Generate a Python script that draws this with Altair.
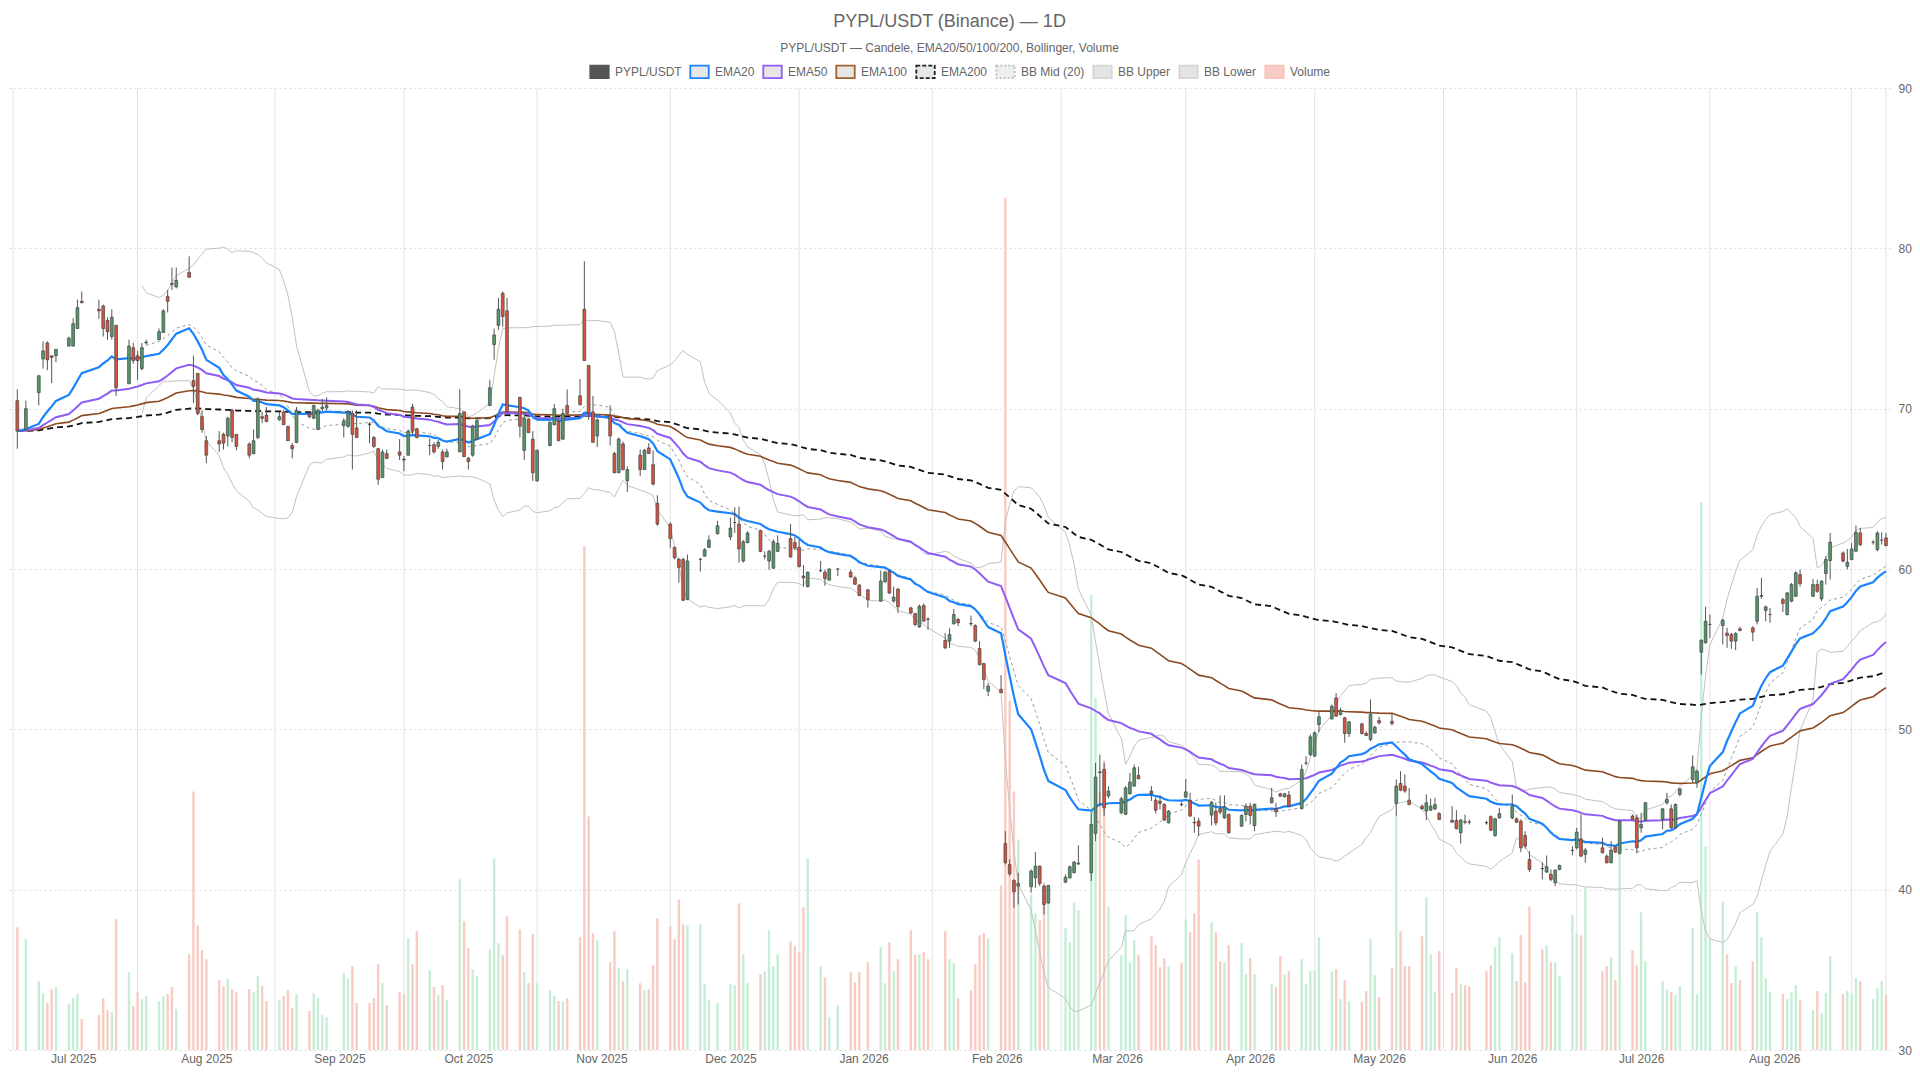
import altair as alt
import pandas as pd

FONT = "Liberation Sans"

# ---------------- data ----------------
holidays = ["2025-06-19", "2025-07-04", "2025-09-01", "2025-11-27", "2025-12-25",
            "2026-01-01", "2026-01-19", "2026-02-16", "2026-04-03", "2026-05-25",
            "2026-06-19", "2026-07-03"]
first_day, last_day = "2025-06-18", "2026-08-27"

open_ = [
    70.5, 68.7, 71.0, 73.1, 74.1, 73.3, 73.3, 73.9,
    73.9, 75.0, 76.7, 76.2, 76.4, 75.5, 74.5, 75.2, 71.55, 73.8, 73.3, 72.5, 74.1, 74.3, 74.75, 77.0, 77.8, 77.6, 78.5, 71.75, 72.2, 69.5,
    68.0, 68.0, 68.4, 68.3, 69.9, 68.4, 67.8, 67.2, 68.2, 69.5, 69.6, 69.3, 69.8, 68.9, 67.7, 67.9, 69.7, 69.4, 68.7, 70.0, 70.05,
    68.94, 68.9, 69.7, 68.8, 69.05, 68.2, 67.5, 65.7, 67.2, 67.3, 66.85, 67.1, 70.1, 68.75, 67.7, 67.75, 67.65, 67.3, 67.0, 67.3, 69.8,
    66.9, 67.1, 68.1, 70.2, 74.0, 75.2, 77.2, 76.1, 70.7, 67.4, 69.35, 68.1, 65.5, 67.7, 69.0, 69.2, 68.1, 70.2, 70.8, 76.2, 72.7, 69.8, 68.3,
    69.6, 67.2, 66.0, 67.8, 65.5, 67.1, 66.2, 67.55, 66.5, 64.1, 62.8, 61.35, 60.6, 60.6, 58.1, 60.6, 60.8, 61.35, 62.2,
    62.0, 62.9, 62.8, 60.5, 61.65, 62.4, 60.8, 60.5, 60.05, 61.1, 61.9, 61.65, 61.35, 59.55, 58.9, 59.9, 59.8, 59.3, 60.0, 59.8, 59.45, 59.0,
    58.7, 58.0, 59.2, 59.85, 58.0, 58.75, 57.57, 57.22, 56.39, 57.72, 56.87, 55.54, 55.5, 56.58, 56.85, 56.6, 56.47, 55.04, 54.1, 52.38,
    52.5, 42.88, 41.57, 40.58, 40.22, 40.18, 40.74, 41.47, 40.22, 39.18, 40.47, 40.74, 41.06, 41.6, 41.06, 43.51, 47.35, 47.5, 45.84,
    44.8, 44.7, 45.98, 46.46, 47.12, 46.15, 45.58, 45.52, 45.32, 44.17, 45.32, 45.77, 45.58, 44.2, 44.28, 44.65, 44.9, 45.05, 44.48, 44.69, 43.96, 44.69,
    45.21, 44.0, 45.42, 45.06, 45.98, 45.79, 45.9, 45.06, 47.9, 48.43, 48.33, 50.3, 50.65, 51.96, 50.92, 50.72, 49.74, 50.34, 49.74, 49.37, 49.78,
    50.55, 50.5, 45.38, 46.62, 46.46, 45.58, 45.21, 44.9, 44.96, 45.04, 44.75, 44.32, 44.32, 43.55, 44.25, 44.22, 44.18, 44.55, 43.38, 44.48,
    44.48, 44.42, 44.27, 43.38, 41.88, 41.32, 41.1, 40.95, 40.43, 41.26, 42.45, 42.61, 43.17, 42.2, 42.61, 42.09, 41.68, 42.68, 42.26, 44.59, 44.48,
    43.86, 44.34, 44.38, 45.42, 45.04, 43.86, 45.94, 46.87, 46.67, 54.81, 55.4, 56.54, 56.47, 56.0, 55.91, 55.5, 56.27, 56.33, 56.74, 58.3, 57.41, 57.16,
    58.09, 57.16, 57.99, 58.3, 59.65, 58.3, 59.03, 58.14, 59.72, 60.53, 61.0, 60.17, 60.59, 61.11, 62.25, 61.67, 61.21, 61.8, 61.94,
]
high_ = [
    71.2, 70.5, 72.1, 74.2, 74.2, 73.3, 73.7, 74.5,
    75.65, 76.8, 77.3, 76.8, 76.5, 75.7, 76.2, 75.2, 74.3, 74.1, 73.6, 74.1, 74.3, 75.0, 76.2, 77.4, 78.8, 78.8, 79.5, 73.3, 72.2, 69.9,
    68.3, 68.6, 68.5, 69.5, 70.0, 68.4, 67.9, 68.7, 70.7, 69.8, 70.1, 69.8, 69.9, 68.9, 67.85, 70.1, 69.85, 70.25, 70.0, 70.6, 70.7,
    69.4, 69.9, 69.9, 69.9, 69.15, 68.3, 67.55, 67.45, 67.45, 68.1, 67.05, 68.7, 70.3, 68.8, 68.15, 67.9, 68.05, 67.45, 67.5, 71.2, 69.8,
    67.0, 69.0, 69.4, 71.8, 75.0, 76.9, 77.3, 76.9, 70.75, 69.7, 69.4, 68.6, 67.45, 69.2, 70.3, 69.35, 70.0, 71.2, 71.85, 79.2, 72.7, 70.8, 69.4,
    70.2, 67.3, 68.2, 67.95, 66.4, 67.45, 67.5, 67.85, 67.4, 64.6, 62.9, 61.4, 60.7, 60.7, 60.9, 60.7, 61.3, 62.1, 63.0,
    63.2, 63.85, 63.9, 61.8, 62.35, 62.45, 61.1, 61.2, 61.85, 62.1, 62.8, 62.0, 61.85, 60.25, 59.85, 60.5, 59.95, 60.05, 60.05, 59.95, 59.55, 59.05,
    58.75, 59.9, 59.9, 60.0, 58.9, 58.8, 57.65, 57.26, 57.78, 57.85, 57.0, 56.0, 56.3, 57.5, 56.95, 57.1, 56.55, 55.5, 54.15, 52.9,
    53.38, 43.65, 41.89, 40.65, 41.06, 41.26, 42.34, 41.5, 40.3, 40.3, 40.95, 41.5, 41.78, 42.76, 44.8, 47.91, 48.43, 47.9, 46.46,
    45.8, 46.45, 47.29, 47.8, 47.66, 46.46, 45.73, 45.88, 45.38, 44.96, 45.46, 46.9, 46.04, 44.54, 44.48, 45.52, 45.42, 45.88, 45.88, 44.75, 44.69, 45.38,
    45.42, 45.38, 46.35, 45.42, 46.04, 46.0, 46.15, 47.8, 48.33, 49.68, 49.88, 51.13, 51.55, 52.27, 51.34, 50.78, 50.51, 50.4, 49.88, 51.86, 50.24,
    50.78, 51.03, 46.87, 47.39, 47.18, 46.35, 45.31, 45.94, 45.67, 45.73, 44.83, 45.21, 44.96, 44.42, 44.69, 44.38, 44.3, 44.63, 44.48, 45.1,
    45.94, 44.5, 44.38, 43.65, 42.4, 41.7, 42.13, 41.26, 41.26, 41.56, 42.72, 43.86, 44.69, 42.6, 43.24, 42.2, 43.03, 42.77, 44.34, 44.69, 44.69,
    44.79, 45.46, 45.1, 46.04, 45.31, 45.38, 46.35, 48.37, 47.5, 55.6, 57.64, 57.16, 56.89, 56.33, 56.02, 56.06, 56.39, 56.43, 58.82, 59.45, 57.72, 57.58,
    58.2, 58.55, 59.13, 59.86, 59.97, 59.38, 59.34, 59.3, 60.8, 62.25, 61.1, 61.25, 61.63, 62.71, 62.56, 61.8, 62.35, 62.29, 62.25,
]
low_ = [
    67.5, 68.6, 70.2, 72.5, 72.4, 71.6, 72.9, 73.9,
    73.9, 75.0, 76.6, 75.6, 74.5, 74.3, 74.3, 70.8, 71.55, 72.8, 71.8, 72.4, 74.0, 74.3, 74.75, 76.0, 77.4, 77.5, 78.15, 70.35, 69.6, 68.5,
    66.6, 67.3, 67.45, 67.65, 67.9, 67.4, 66.9, 67.15, 68.1, 69.1, 69.15, 69.25, 69.0, 68.0, 66.9, 67.85, 69.4, 69.35, 68.7, 69.85, 69.9,
    68.2, 68.8, 66.2, 68.2, 67.85, 67.55, 65.25, 65.7, 66.85, 66.8, 66.1, 67.05, 68.4, 68.15, 67.1, 67.2, 67.5, 66.2, 66.95, 67.3, 67.0,
    66.2, 67.0, 68.05, 70.15, 73.05, 74.9, 75.1, 69.75, 68.2, 66.8, 68.5, 65.5, 65.45, 67.65, 68.95, 68.0, 68.05, 69.7, 70.2, 73.0, 69.3, 67.9, 67.6,
    67.7, 66.0, 66.0, 66.15, 64.8, 65.8, 66.2, 67.2, 65.2, 62.7, 61.3, 60.6, 59.15, 58.0, 58.05, 59.85, 60.8, 61.3, 62.15,
    61.8, 62.25, 60.4, 60.4, 61.6, 61.05, 60.6, 59.95, 60.0, 61.05, 60.7, 61.2, 60.1, 58.9, 58.85, 59.8, 58.95, 59.3, 59.55, 59.45, 59.0, 58.3,
    57.6, 57.95, 59.15, 58.45, 57.9, 57.25, 57.2, 56.43, 56.33, 56.7, 56.2, 55.0, 55.08, 56.54, 56.43, 56.43, 55.44, 53.98, 52.5, 52.07,
    52.28, 41.57, 40.85, 38.87, 39.08, 39.81, 40.12, 40.22, 38.46, 39.12, 40.4, 40.68, 41.02, 41.55, 40.54, 43.03, 45.2, 44.6, 45.7,
    44.7, 44.65, 45.94, 46.42, 46.88, 45.53, 44.75, 45.0, 44.28, 44.13, 45.2, 45.73, 44.55, 43.55, 43.34, 44.0, 44.0, 44.69, 44.42, 43.5, 43.92, 44.27,
    44.07, 43.65, 45.38, 44.54, 45.8, 45.75, 45.17, 45.0, 47.75, 48.33, 48.29, 49.82, 50.61, 50.78, 50.86, 49.16, 49.53, 49.68, 49.57, 49.26, 49.72,
    50.3, 50.24, 44.59, 46.14, 46.04, 45.27, 45.0, 44.34, 44.9, 44.96, 44.34, 44.17, 43.76, 42.88, 44.07, 44.07, 44.05, 43.65, 43.3, 44.42,
    44.38, 44.15, 42.34, 42.55, 41.1, 40.64, 41.05, 40.53, 40.22, 41.22, 42.14, 42.51, 42.05, 41.68, 42.26, 41.63, 41.64, 42.3, 42.2, 44.34, 42.26,
    43.55, 44.28, 43.76, 45.31, 43.76, 43.8, 45.83, 46.67, 46.35, 53.42, 55.35, 55.7, 55.29, 55.08, 55.02, 54.94, 56.12, 55.5, 56.54, 58.14, 56.74, 56.64,
    57.31, 57.1, 57.93, 58.26, 58.89, 58.26, 58.51, 57.99, 59.03, 59.34, 60.42, 59.97, 60.55, 61.05, 61.42, 61.52, 61.11, 61.52, 61.42,
]
close_ = [
    68.6, 70.0, 72.05, 73.6, 73.05, 73.2, 73.7, 74.4,
    75.3, 76.3, 76.6, 76.1, 75.0, 74.8, 75.7, 71.3, 73.9, 73.0, 73.0, 73.8, 74.15, 74.8, 76.1, 76.7, 77.75, 78.0, 78.2, 71.4, 69.7, 68.7,
    67.1, 67.8, 67.85, 69.4, 68.2, 67.65, 67.1, 68.0, 70.6, 69.4, 69.2, 69.5, 69.0, 68.0, 67.5, 69.9, 69.5, 70.2, 69.9, 70.1, 70.2,
    69.25, 69.8, 68.4, 68.2, 69.0, 67.65, 65.6, 67.3, 66.9, 67.1, 66.8, 68.6, 68.6, 68.2, 67.7, 67.3, 67.9, 66.7, 67.3, 69.7, 67.0,
    66.7, 68.9, 69.25, 71.3, 74.6, 76.2, 75.75, 69.8, 68.9, 69.4, 68.5, 66.0, 67.4, 69.15, 70.0, 68.0, 69.7, 69.7, 70.25, 73.0, 69.7, 67.9, 69.3,
    68.3, 66.0, 68.1, 66.2, 66.2, 66.2, 67.4, 67.2, 65.3, 62.8, 61.9, 60.7, 60.1, 58.05, 60.5, 60.6, 61.2, 61.8, 62.7,
    62.55, 62.9, 61.25, 61.7, 62.25, 61.1, 60.8, 61.1, 61.7, 61.6, 60.75, 61.3, 60.15, 59.45, 59.8, 59.9, 59.4, 60.0, 60.0, 59.5, 59.05, 58.35,
    58.1, 59.25, 59.8, 58.5, 58.25, 57.65, 57.26, 56.54, 57.68, 56.75, 56.85, 55.08, 55.91, 57.16, 56.64, 56.58, 55.5, 54.04, 53.1, 52.7,
    52.28, 41.68, 40.99, 39.87, 40.39, 41.16, 41.47, 40.39, 39.08, 40.26, 40.78, 41.43, 41.72, 41.65, 44.07, 47.02, 47.3, 45.1, 46.15,
    45.67, 46.35, 46.71, 47.6, 46.92, 45.98, 44.96, 45.38, 44.34, 44.9, 45.3, 46.1, 44.59, 44.17, 43.96, 45.46, 44.17, 44.84, 45.17, 43.55, 44.63, 45.21,
    44.63, 45.31, 45.73, 44.86, 45.83, 45.98, 45.21, 47.5, 47.9, 49.53, 49.78, 50.78, 51.44, 50.82, 51.19, 49.74, 50.47, 49.74, 49.62, 50.92, 50.13,
    50.4, 50.36, 46.46, 46.2, 46.15, 45.31, 45.04, 45.42, 45.21, 45.31, 44.38, 44.21, 43.8, 44.34, 44.21, 44.21, 44.17, 43.71, 44.42, 44.75,
    45.21, 44.21, 42.61, 42.72, 41.26, 41.3, 41.43, 40.64, 41.22, 41.51, 42.45, 43.59, 42.09, 42.47, 42.3, 41.68, 42.47, 42.34, 44.28, 44.38, 42.61,
    44.07, 45.42, 45.04, 45.63, 43.86, 45.31, 46.29, 47.66, 47.39, 55.56, 56.74, 56.54, 56.81, 55.85, 55.5, 55.98, 56.16, 56.06, 58.3, 58.35, 57.64, 57.16,
    57.85, 58.51, 59.03, 59.76, 59.09, 59.03, 58.61, 59.24, 60.59, 61.67, 60.49, 60.42, 61.25, 62.29, 61.52, 61.67, 62.25, 61.8, 61.46,
]
volume_ = [
    123, 111, 69, 57, 47, 61, 63, 46,
    52, 56, 31, 35, 52, 40, 38, 131, 78, 44, 58, 51, 54, 49, 54, 56, 63, 41, 96, 259, 125, 100,
    91, 70, 64, 71, 61, 58, 61, 58, 74, 64, 49, 50, 54, 60, 42, 56, 39, 57, 52, 35, 33,
    77, 71, 84, 47, 47, 52, 86, 67, 45, 58, 56, 112, 86, 119, 80, 63, 55, 65, 50, 171, 129,
    102, 81, 74, 101, 192, 107, 95, 134, 121, 78, 67, 116, 67, 60, 54, 49, 49, 52, 113, 505, 234, 117, 110,
    88, 119, 82, 69, 81, 67, 60, 61, 85, 132, 124, 111, 151, 126, 125, 126, 66, 50, 47,
    66, 65, 147, 96, 67, 76, 79, 120, 84, 96, 109, 104, 98, 143, 192, 84, 73, 33, 45, 78, 68, 78,
    88, 103, 67, 108, 79, 91, 120, 95, 96, 98, 91, 119, 91, 87, 52, 60, 86, 115, 117, 112,
    165, 854, 350, 259, 211, 156, 137, 130, 168, 165, 122, 108, 148, 140, 456, 353, 259, 290, 144,
    95, 135, 88, 110, 95, 114, 105, 83, 92, 84, 87, 131, 118, 137, 191, 128, 118, 89, 88, 105, 107, 76,
    92, 76, 66, 63, 94, 76, 79, 91, 66, 79, 80, 113, 79, 81, 51, 70, 49, 48, 59, 111, 75,
    53, 82, 234, 119, 84, 84, 114, 153, 96, 58, 99, 57, 82, 66, 65, 64, 79, 85, 103, 113,
    97, 69, 115, 68, 144, 101, 105, 88, 88, 74, 135, 117, 115, 163, 79, 84, 93, 70, 197, 100, 85,
    138, 89, 69, 61, 58, 55, 64, 122, 56, 549, 204, 111, 149, 96, 67, 84, 70, 89, 138, 113, 72, 58,
    56, 51, 58, 65, 50, 40, 59, 37, 57, 94, 56, 59, 57, 72, 69, 51, 62, 69, 55,
]

month_labels = ["Jul 2025", "Aug 2025", "Sep 2025", "Oct 2025", "Nov 2025", "Dec 2025", "Jan 2026",
                "Feb 2026", "Mar 2026", "Apr 2026", "May 2026", "Jun 2026", "Jul 2026", "Aug 2026"]
month_starts = ["2025-07-01", "2025-08-01", "2025-09-01", "2025-10-01", "2025-11-01", "2025-12-01",
                "2026-01-01", "2026-02-01", "2026-03-01", "2026-04-01", "2026-05-01", "2026-06-01",
                "2026-07-01", "2026-08-01"]
grid_dates = ["2025-06-17", "2025-07-16", "2025-08-17", "2025-09-16", "2025-10-17", "2025-11-17",
              "2025-12-17", "2026-01-17", "2026-02-16", "2026-03-17", "2026-04-16", "2026-05-16",
              "2026-06-16", "2026-07-17", "2026-08-19", "2026-08-27"]

legend_names = ["PYPL/USDT", "EMA20", "EMA50", "EMA100", "EMA200", "BB Mid (20)", "BB Upper", "BB Lower", "Volume"]

# ---------------- assemble ----------------
origin = pd.Timestamp("2025-06-17")
dates = [d for d in pd.bdate_range(first_day, last_day) if d.strftime("%Y-%m-%d") not in holidays]
n = len(dates)
for arr in (open_, high_, low_, close_, volume_):
    assert len(arr) == n, (len(arr), n)

day = [(d - origin).days for d in dates]
df = pd.DataFrame({"day": day, "open": open_, "high": high_, "low": low_, "close": close_, "volume": volume_})
df["up"] = df["close"] >= df["open"]

c = df["close"]
ind = pd.DataFrame({"day": day})
for span in (20, 50, 100, 200):
    ind[f"ema{span}"] = c.ewm(span=span, adjust=False).mean()
mid = c.rolling(20).mean()
sd = c.rolling(20).std(ddof=0)
ind["bb_mid"] = mid
ind["bb_up"] = mid + 2 * sd
ind["bb_lo"] = mid - 2 * sd

month_days = [(pd.Timestamp(s) - origin).days for s in month_starts]
grid_days = [(pd.Timestamp(s) - origin).days for s in grid_dates]
x_max = (pd.Timestamp(last_day) - origin).days

label_expr = ("[" + ",".join(f"'{l}'" for l in month_labels) + "][indexof(["
              + ",".join(str(v) for v in month_days) + "], datum.value)]")

xscale = alt.Scale(domain=[0, x_max], nice=False, zero=False)
xaxis = alt.Axis(values=month_days, labelExpr=label_expr, grid=False, ticks=False, domain=False,
                 labelPadding=3, labelFontSize=12, labelColor="#666666", labelFont=FONT,
                 title=None, labelOverlap=False, labelFlush=False)
X = alt.X("day:Q", scale=xscale, axis=xaxis)

yscale = alt.Scale(domain=[30, 90], nice=False, zero=False)
yaxis = alt.Axis(orient="right", values=list(range(30, 91, 10)), grid=True, gridColor="#dcdcdc",
                 gridDash=[2, 3], gridWidth=1, ticks=False, domain=False, labelPadding=7,
                 labelFontSize=12, labelColor="#666666", labelFont=FONT, title=None)

UP, DN = "#55976b", "#d5543f"
VOL_UP, VOL_DN = "#c6eed6", "#f8cbc3"

vgrid = alt.Chart(pd.DataFrame({"day": grid_days})).mark_rule(color="#e3e3e3", strokeWidth=1).encode(x=X)

vol = alt.Chart(df).mark_bar(size=2.4).encode(
    x=X,
    y=alt.Y("volume:Q", scale=alt.Scale(domain=[0, 964], nice=False, zero=True), axis=None),
    color=alt.condition("datum.up", alt.value(VOL_UP), alt.value(VOL_DN)),
)


def line(col, color, width, dash=None):
    kw = dict(color=color, strokeWidth=width)
    if dash:
        kw["strokeDash"] = dash
    return alt.Chart(ind).mark_line(**kw).encode(
        x=X, y=alt.Y(f"{col}:Q", scale=yscale, axis=yaxis))


bb_up = line("bb_up", "#c2c2c2", 1)
bb_lo = line("bb_lo", "#c2c2c2", 1)
bb_mid = line("bb_mid", "#9a9a9a", 1, [3, 3])
ema200 = line("ema200", "#111111", 1.8, [6, 4])
ema100 = line("ema100", "#8b4a22", 1.6)
ema50 = line("ema50", "#8f5cf5", 2)
ema20 = line("ema20", "#1a84ff", 2.2)

wick = alt.Chart(df).mark_rule(color="#555555", strokeWidth=1).encode(
    x=X, y=alt.Y("low:Q", scale=yscale, axis=yaxis), y2="high:Q")
body = alt.Chart(df).mark_bar(size=2.8, stroke="#444444", strokeWidth=0.7).encode(
    x=X, y=alt.Y("open:Q", scale=yscale, axis=yaxis), y2="close:Q",
    fill=alt.condition("datum.up", alt.value(UP), alt.value(DN)),
)

RECT = "M-1,-0.68H1V0.68H-1Z"
legend_fills = ["#555555", "#e6e6e6", "#e6e6e6", "#e6e6e6", "#e6e6e6", "#eeeeee", "#e4e4e4", "#e4e4e4", "#f8cbc4"]
legend_strokes = ["#555555", "#1a84ff", "#8f5cf5", "#a0612f", "#222222", "#bdbdbd", "#d6d6d6", "#d6d6d6", "#f6c4bc"]
legend_dashes = [[1, 0], [1, 0], [1, 0], [1, 0], [4, 2], [2, 2], [1, 0], [1, 0], [1, 0]]
LEG = alt.Legend(orient="none", legendX=581, legendY=-27, direction="horizontal", title=None,
                 symbolType=RECT, symbolSize=340, symbolStrokeWidth=1.8, symbolOpacity=1,
                 labelFontSize=12, labelColor="#666666", labelFont=FONT, labelOffset=5,
                 columnPadding=4, padding=0, labelLimit=200)
legend_layer = alt.Chart(pd.DataFrame({"name": legend_names})).mark_point(
    filled=True, shape=RECT, opacity=0, size=340).encode(
    x=alt.value(0), y=alt.value(0),
    fill=alt.Fill("name:N", scale=alt.Scale(domain=legend_names, range=legend_fills), legend=LEG),
    stroke=alt.Stroke("name:N", scale=alt.Scale(domain=legend_names, range=legend_strokes), legend=LEG),
    strokeDash=alt.StrokeDash("name:N", scale=alt.Scale(domain=legend_names, range=legend_dashes), legend=LEG),
)

price = alt.layer(bb_up, bb_lo, bb_mid, ema200, ema100, ema50, ema20, wick, body)

chart = alt.layer(vgrid, vol, price, legend_layer).resolve_scale(y="independent").properties(
    width=1883, height=962,
    title=alt.TitleParams(
        text="PYPL/USDT (Binance) — 1D",
        subtitle="PYPL/USDT — Candele, EMA20/50/100/200, Bollinger, Volume",
        fontSize=18, fontWeight="normal", color="#666666", font=FONT,
        subtitleFontSize=12, subtitleColor="#666666", subtitleFont=FONT,
        subtitlePadding=12, anchor="middle", offset=7,
    ),
    autosize=alt.AutoSizeParams(type="none"),
    padding={"left": 0, "top": 80, "right": 21, "bottom": 18},
    background="white",
).configure_view(stroke=None)

chart.save("out.html", embed_options={"renderer": "svg", "actions": False})
